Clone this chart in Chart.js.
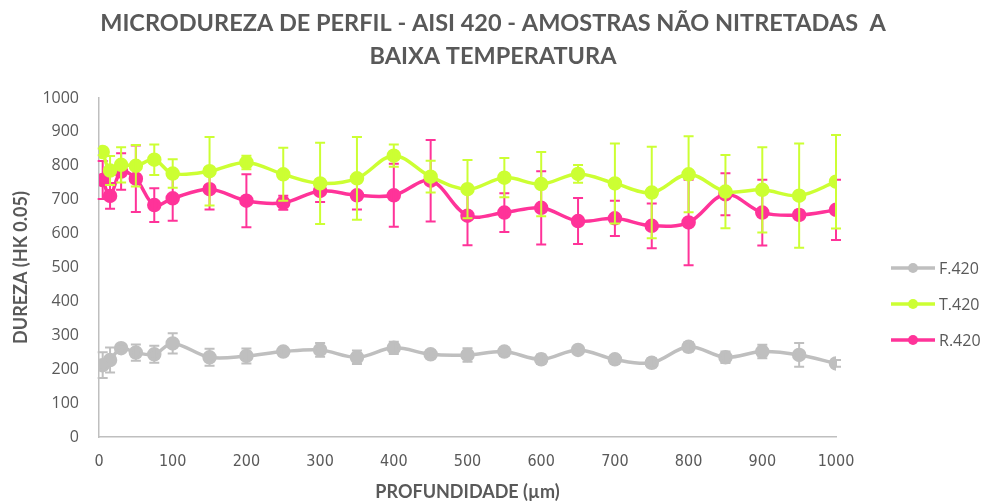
<!DOCTYPE html>
<html>
<head>
<meta charset="utf-8">
<script src="https://cdn.jsdelivr.net/npm/chart.js@4"></script>
<style>
  html, body { margin: 0; padding: 0; background: #ffffff; }
  #wrap { width: 990px; height: 504px; }
</style>
</head>
<body>
<div id="wrap"><canvas id="c" width="990" height="504"></canvas></div>
<script>
// Depth of each indentation (µm)
const depth = [5, 15, 30, 50, 75, 100, 150, 200, 250, 300, 350, 400, 450, 500,
               550, 600, 650, 700, 750, 800, 850, 900, 950, 1000];

// Knoop microhardness (HK 0.05) and standard deviation per series
const f420 = [212, 227, 262, 249, 244, 276, 235, 239, 252, 257, 235, 263, 244, 242,
              252, 229, 257, 229, 219, 266, 235, 252, 242, 217];
const f420Err = [38, 37, 6, 24, 25, 30, 25, 22, 10, 20, 20, 18, 12, 20,
                 12, 14, 6, 13, 13, 14, 17, 20, 35, 10];

const t420 = [841, 786, 803, 800, 818, 777, 784, 810, 775, 748, 763, 830, 768, 731,
              765, 746, 776, 748, 721, 775, 724, 729, 712, 753];
const t420Err = [10, 43, 52, 61, 45, 42, 101, 20, 78, 120, 122, 33, 47, 86,
                 58, 95, 26, 118, 135, 112, 108, 126, 154, 138];

const r420 = [758, 711, 783, 762, 684, 704, 731, 697, 691, 726, 713, 713, 756, 653,
              662, 676, 637, 645, 623, 633, 716, 662, 655, 670];
const r420Err = [56, 38, 54, 98, 50, 66, 60, 78, 21, 33, 42, 93, 120, 87,
                 57, 108, 68, 52, 66, 126, 62, 97, 13, 89];

const seriesNames = ['F.420', 'T.420', 'R.420'];
const seriesColors = ['#BFBFBF', '#CCFF33', '#FF3399'];

const titleLines = ['MICRODUREZA DE PERFIL - AISI 420 - AMOSTRAS NÃO NITRETADAS  A', 'BAIXA TEMPERATURA'];
const xTitle = 'PROFUNDIDADE (µm)';
const yTitle = 'DUREZA (HK 0.05)';

const textGray = '#595959';

function pts(vals) { return depth.map((d, i) => ({ x: d, y: vals[i] })); }

const datasets = [
  { label: seriesNames[0], data: pts(f420), err: f420Err },
  { label: seriesNames[1], data: pts(t420), err: t420Err },
  { label: seriesNames[2], data: pts(r420), err: r420Err }
].map((ds, i) => Object.assign(ds, {
  borderColor: seriesColors[i],
  backgroundColor: seriesColors[i],
  pointBackgroundColor: seriesColors[i],
  pointBorderColor: seriesColors[i],
  borderWidth: 3.5,
  pointRadius: 5.5,
  pointHoverRadius: 5.5,
  tension: 0.35,
  fill: false
}));

// Vertical error bars with caps, drawn through the chart's scales
const errorBars = {
  id: 'errorBars',
  afterDatasetDraw(chart, args) {
    const ds = chart.data.datasets[args.index];
    if (!ds.err) return;
    const xs = chart.scales.x, ys = chart.scales.y;
    const ctx = chart.ctx;
    ctx.save();
    ctx.strokeStyle = ds.borderColor;
    ctx.lineWidth = 2;
    ds.data.forEach((p, i) => {
      const e = ds.err[i];
      const px = xs.getPixelForValue(p.x);
      const top = ys.getPixelForValue(p.y + e);
      const bot = ys.getPixelForValue(p.y - e);
      ctx.beginPath();
      ctx.moveTo(px, top); ctx.lineTo(px, bot);
      ctx.moveTo(px - 5, top); ctx.lineTo(px + 5, top);
      ctx.moveTo(px - 5, bot); ctx.lineTo(px + 5, bot);
      ctx.stroke();
    });
    ctx.restore();
  }
};

// Two-line heading centred on the whole canvas
const heading = {
  id: 'heading',
  afterDraw(chart) {
    const ctx = chart.ctx;
    ctx.save();
    ctx.fillStyle = textGray;
    ctx.font = 'bold 23.5px Lato, "Open Sans", sans-serif';
    ctx.textAlign = 'center';
    ctx.textBaseline = 'middle';
    ctx.fillText(titleLines[0], chart.width / 2 - 2, 23);
    ctx.fillText(titleLines[1], chart.width / 2 - 2, 56);
    ctx.restore();
  }
};

// Legend on the right: line sample with a marker, then the series name
const sideLegend = {
  id: 'sideLegend',
  afterDraw(chart) {
    const ctx = chart.ctx;
    ctx.save();
    const x0 = 891, x1 = 935;
    const rows = [268, 304, 340];
    chart.data.datasets.forEach((ds, i) => {
      const y = rows[i];
      ctx.strokeStyle = ds.borderColor;
      ctx.lineWidth = 3.5;
      ctx.beginPath(); ctx.moveTo(x0, y); ctx.lineTo(x1, y); ctx.stroke();
      ctx.fillStyle = ds.borderColor;
      ctx.beginPath(); ctx.arc((x0 + x1) / 2, y, 5, 0, Math.PI * 2); ctx.fill();
      ctx.fillStyle = textGray;
      ctx.font = '16px "Open Sans", sans-serif';
      ctx.textBaseline = 'middle';
      ctx.textAlign = 'left';
      ctx.fillText(ds.label, 939, y + 1);
    });
    ctx.restore();
  }
};

new Chart(document.getElementById('c'), {
  type: 'line',
  data: { datasets },
  options: {
    responsive: false,
    animation: false,
    events: [],
    layout: { padding: { left: 10, right: 154, top: 98, bottom: 0 } },
    plugins: {
      legend: { display: false },
      tooltip: { enabled: false },
      title: { display: false }
    },
    scales: {
      x: {
        type: 'linear',
        min: 0, max: 1000,
        afterFit(scale) { scale.height = 67; },
        grid: { display: false, drawTicks: false },
        border: { display: true, color: '#BFBFBF', width: 1.5 },
        ticks: {
          stepSize: 100,
          color: textGray,
          padding: 15,
          maxRotation: 0,
          callback: v => String(v),
          font: { family: '"Liberation Sans Narrow", "DejaVu Sans Condensed", sans-serif', size: 16 }
        },
        title: {
          display: true,
          text: xTitle,
          color: textGray,
          font: { family: 'Lato, "Open Sans", sans-serif', size: 18, weight: 'bold' },
          padding: { top: 0, bottom: 1 }
        }
      },
      y: {
        min: 0, max: 1000,
        afterFit(scale) { scale.width = 89; },
        grid: { display: false, drawTicks: false },
        border: { display: true, color: '#BFBFBF', width: 1.5 },
        ticks: {
          stepSize: 100,
          color: textGray,
          padding: 20,
          callback: v => String(v),
          font: { family: '"Open Sans", sans-serif', size: 16 }
        },
        title: {
          display: true,
          text: yTitle,
          color: textGray,
          font: { family: 'Lato, "Open Sans", sans-serif', size: 18, weight: 'bold' },
          padding: { top: 0, bottom: 6 }
        }
      }
    }
  },
  plugins: [errorBars, heading, sideLegend]
});
</script>
</body>
</html>
